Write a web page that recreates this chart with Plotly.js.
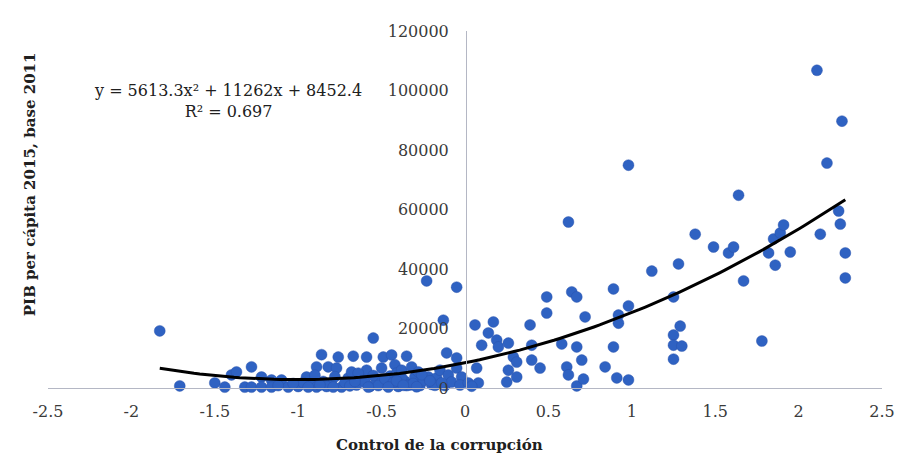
<!DOCTYPE html>
<html>
<head>
<meta charset="utf-8">
<script src="https://cdn.plot.ly/plotly-3.0.1.min.js"></script>
<style>
  html, body { margin: 0; padding: 0; background: #fff; }
  #chart { width: 909px; height: 475px; }
</style>
</head>
<body>
<div id="chart"></div>
<script>
// Índice de control de la corrupción por país
const controlCorrupcion = [
  -1.83, -1.71, -1.50, -1.44, -1.40, -1.37, -1.32, -1.28, -1.28, -1.22,
  -1.22, -1.16, -1.16, -1.10, -1.06, -1.00, -0.95, -0.92, -0.89, -0.86,
  -0.89, -0.82, -0.80, -0.77, -0.76, -0.74, -0.70, -0.68, -0.67, -0.65,
  -0.62, -0.59, -0.59, -0.57, -0.55, -0.53, -0.50, -0.49, -0.47, -0.45,
  -0.44, -0.42, -0.41, -0.40, -0.38, -0.36, -0.35, -0.33, -0.32, -0.30,
  -0.28, -0.27, -0.25, -0.23, -0.22, -0.20, -0.17, -0.15, -0.13, -0.12,
  -0.11, -0.10, -0.08, -0.05, -0.05, -0.05, -0.02, -0.03, 0.02, 0.06,
  0.07, 0.08, 0.10, 0.14, 0.17, 0.19, 0.20, 0.25, 0.26, 0.26,
  0.29, 0.31, 0.31, 0.39, 0.40, 0.40, 0.45, 0.49, 0.49, 0.58,
  0.61, 0.62, 0.62, 0.64, 0.67, 0.67, 0.67, 0.70, 0.71, 0.72,
  0.84, 0.89, 0.89, 0.91, 0.92, 0.92, 0.98, 0.98, 0.98, 1.12,
  1.25, 1.25, 1.25, 1.25, 1.28, 1.29, 1.30, 1.38, 1.49, 1.58,
  1.61, 1.64, 1.67, 1.78, 1.82, 1.85, 1.86, 1.89, 1.91, 1.95,
  2.11, 2.13, 2.17, 2.24, 2.25, 2.26, 2.28, 2.28,
  -0.97, -0.85, -0.83, -0.78, -0.72, -0.64, -0.60, -0.55, -0.52, -0.48,
  -0.43, -0.38, -0.35, -0.31, -0.26, -0.18, -0.90, -0.69,
  -1.12, -1.03, -0.94, -0.87, -0.79, -0.66, -0.58, -0.46, -0.41, -0.37,
  -0.29, -0.21, -0.14, 0.04
];

// PIB per cápita 2015 (base 2011)
const pibPerCapita = [
  19200, 700, 1700, 300, 4400, 5400, 300, 7100, 300, 3700,
  300, 2700, 300, 2700, 300, 500, 3700, 1200, 300, 11200,
  7100, 7100, 1500, 6700, 10400, 300, 3400, 5400, 10700, 1000,
  3000, 6000, 10400, 500, 16800, 2700, 6700, 10400, 1000, 4000,
  11100, 7800, 5000, 500, 6000, 2300, 10700, 1000, 7100, 3700,
  5400, 800, 2500, 36000, 3700, 1200, 3400, 6000, 22800, 800,
  11800, 4400, 2000, 33900, 10100, 6700, 3700, 1000, 1700, 21200,
  6700, 1700, 14400, 18500, 22200, 16100, 13800, 2000, 15100, 6000,
  10400, 8700, 3700, 21200, 14400, 9400, 6700, 30600, 25200, 14800,
  7100, 4400, 55800, 32300, 30600, 13800, 700, 9400, 3000, 23900,
  7100, 33300, 13800, 3400, 24500, 21800, 27600, 2700, 74900, 39300,
  30600, 17800, 14400, 9700, 41700, 20800, 14100, 51700, 47400, 45400,
  47400, 64800, 36000, 15800, 45400, 50100, 41300, 52100, 54800, 45700,
  106800, 51700, 75600, 59500, 55100, 89700, 45400, 37000,
  1800, 2200, 500, 3800, 1800, 5000, 2000, 4200, 800, 3000,
  1800, 3500, 800, 1500, 4500, 900, 4300, 700,
  800, 1500, 300, 1000, 300, 2200, 300, 300, 2400, 900,
  400, 2400, 1700, 600
];

// Ajuste polinómico de orden 2: y = a·x² + b·x + c
const coefTendencia = [5613.3, 11262, 8452.4];
const ecuacionTexto = "y = 5613.3x² + 11262x + 8452.4<br>R² = 0.697";

const xTickVals = [-2.5, -2, -1.5, -1, -0.5, 0, 0.5, 1, 1.5, 2, 2.5];
const xTickText = ["-2.5", "-2", "-1.5", "-1", "-0.5", "0", "0.5", "1", "1.5", "2", "2.5"];
const yTickVals = [0, 20000, 40000, 60000, 80000, 100000, 120000];

// Curva de tendencia evaluada sobre el rango de los datos
const xMin = Math.min(...controlCorrupcion);
const xMax = Math.max(...controlCorrupcion);
const curvaX = [], curvaY = [];
const pasos = 120;
for (let i = 0; i <= pasos; i++) {
  const x = xMin + (xMax - xMin) * i / pasos;
  curvaX.push(x);
  curvaY.push(coefTendencia[0] * x * x + coefTendencia[1] * x + coefTendencia[2]);
}

const fuente = "DejaVu Serif, Liberation Serif, serif";

const puntos = {
  x: controlCorrupcion,
  y: pibPerCapita,
  type: "scatter",
  mode: "markers",
  cliponaxis: false,
  marker: {
    size: 11,
    color: "#2f62c2",
    line: { width: 1, color: "rgba(40,80,170,0.4)" }
  },
  hoverinfo: "x+y",
  showlegend: false
};

const tendencia = {
  x: curvaX,
  y: curvaY,
  type: "scatter",
  mode: "lines",
  cliponaxis: false,
  line: { color: "#000000", width: 3 },
  hoverinfo: "skip",
  showlegend: false
};

const layout = {
  width: 909,
  height: 475,
  margin: { l: 48, r: 27, t: 31, b: 87 },
  paper_bgcolor: "#ffffff",
  plot_bgcolor: "#ffffff",
  font: { family: fuente, size: 16, color: "#3a3a3a" },
  xaxis: {
    range: [-2.5, 2.5],
    tickvals: xTickVals,
    ticktext: xTickText,
    showgrid: false,
    zeroline: false,
    showline: true,
    linecolor: "#b4b7c4",
    linewidth: 1,
    ticks: "",
    ticklabelstandoff: 9,
    tickfont: { family: fuente, size: 16, color: "#3a3a3a" }
  },
  yaxis: {
    range: [0, 120000],
    tickvals: yTickVals,
    tickformat: "d",
    anchor: "free",
    position: 0.5012,
    showgrid: false,
    zeroline: false,
    showline: true,
    linecolor: "#b4b7c4",
    linewidth: 1,
    ticks: "",
    ticklabelstandoff: 14,
    tickfont: { family: fuente, size: 16, color: "#3a3a3a" }
  },
  annotations: [
    {
      text: ecuacionTexto,
      xref: "paper", yref: "paper",
      x: 0.216, y: 0.805,
      xanchor: "center", yanchor: "middle",
      align: "center",
      showarrow: false,
      font: { family: fuente, size: 16, color: "#202020" }
    },
    {
      text: "<b>Control de la corrupción</b>",
      xref: "paper", yref: "paper",
      x: 0.47, y: -0.16,
      xanchor: "center", yanchor: "middle",
      showarrow: false,
      font: { family: fuente, size: 15, color: "#202020" }
    },
    {
      text: "<b>PIB per cápita 2015, base 2011</b>",
      xref: "paper", yref: "paper",
      x: -0.022, y: 0.57,
      xanchor: "center", yanchor: "middle",
      textangle: -90,
      showarrow: false,
      font: { family: fuente, size: 15, color: "#202020" }
    }
  ]
};

Plotly.newPlot("chart", [puntos, tendencia], layout, { displayModeBar: false, staticPlot: true });
</script>
</body>
</html>
